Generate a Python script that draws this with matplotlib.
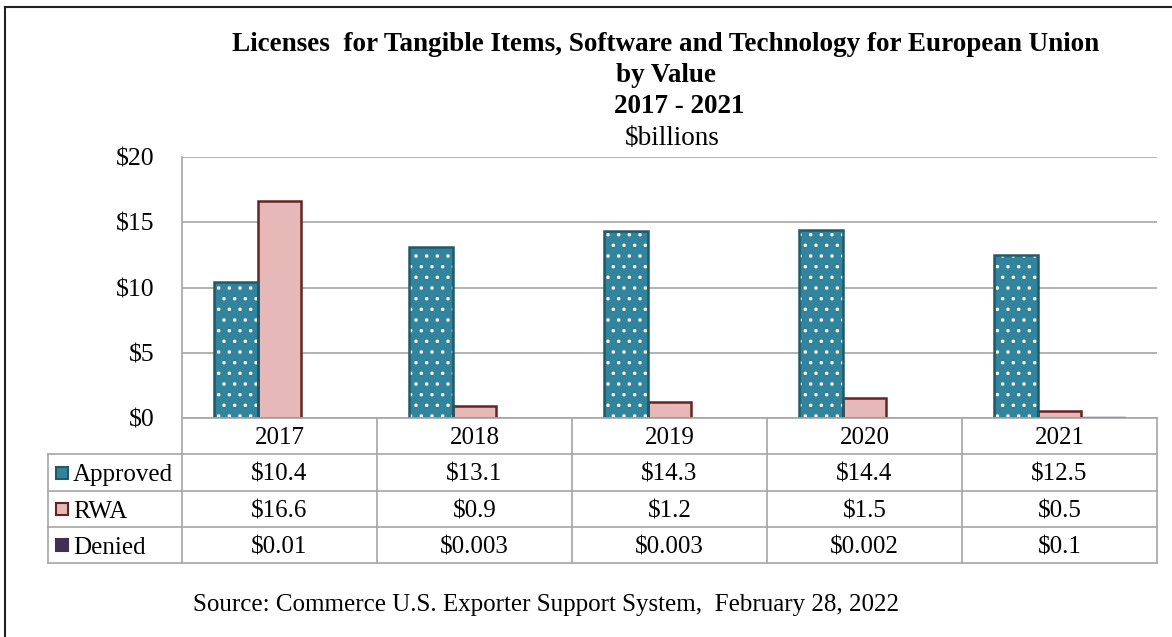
import matplotlib.pyplot as plt
from matplotlib.patches import Rectangle
import numpy as np

plt.rcParams['font.family'] = ['Liberation Serif', 'DejaVu Serif']
plt.rcParams['hatch.color'] = 'white'

# dane
years = ['2017', '2018', '2019', '2020', '2021']
approved = [10.4, 13.1, 14.3, 14.4, 12.5]
rwa = [16.6, 0.9, 1.2, 1.5, 0.5]
denied = [0.01, 0.003, 0.003, 0.002, 0.1]
approved_lbl = ['$10.4', '$13.1', '$14.3', '$14.4', '$12.5']
rwa_lbl = ['$16.6', '$0.9', '$1.2', '$1.5', '$0.5']
denied_lbl = ['$0.01', '$0.003', '$0.003', '$0.002', '$0.1']
yticks = [0, 5, 10, 15, 20]

W, H = 1172, 637
DPI = 128            # wiekszy dpi -> rzadsze kropki w kreskowaniu
k = 100 / DPI        # przeliczenie rozmiarow (pt podane jak dla dpi=100)
plt.rcParams['hatch.linewidth'] = 1.0 * k
fig = plt.figure(figsize=(W / DPI, H / DPI), dpi=DPI)

# obszar wykresu (piksele)
px_l, px_r, px_t, px_b = 182, 1157, 157, 418
ax = fig.add_axes([px_l / W, 1 - px_b / H, (px_r - px_l) / W, (px_b - px_t) / H])

x = np.arange(len(years))
bw = 0.225
# Approved - kropki
ax.bar(x - bw, approved, bw, color='#31849B', hatch='..', edgecolor='white', linewidth=0, zorder=3)
ax.bar(x - bw, approved, bw, fill=False, edgecolor='#215968', linewidth=1.8 * k, zorder=4)
ax.bar(x, rwa, bw, color='#E6B9B8', edgecolor='#632523', linewidth=1.8 * k, zorder=3)
ax.bar(x + bw, denied, bw, color='#403152', edgecolor='#403152', linewidth=1.0 * k, zorder=3)

ax.set_xlim(-0.5, len(years) - 0.5)
ax.set_ylim(0, 20)
ax.set_yticks(yticks)
ax.set_yticklabels([f'${v}' for v in yticks], fontsize=18.5 * k)
ax.tick_params(axis='y', length=0, pad=20 * k)
ax.set_xticks([])
ax.grid(axis='y', color='#A6A6A6', linewidth=1.2 * k, zorder=0)
for s in ['top', 'right', 'bottom']:
    ax.spines[s].set_visible(False)
ax.spines['left'].set_color('#A6A6A6')
ax.spines['left'].set_linewidth(1.2 * k)

# nakladka w pikselach: tabela, tytul, zrodlo
ov = fig.add_axes([0, 0, 1, 1])
ov.set_xlim(0, W)
ov.set_ylim(H, 0)
ov.axis('off')
ov.patch.set_alpha(0)

grid_c = '#A6A6A6'
tbl_l = 48
cols = [px_l + i * (px_r - px_l) / len(years) for i in range(len(years) + 1)]
rows = [418, 454, 491, 527, 563]
dy = 2.5  # korekta pionowa tekstu

# linie tabeli
ov.plot([px_l, px_r], [rows[0], rows[0]], color=grid_c, lw=1.2 * k)
for r in rows[1:]:
    ov.plot([tbl_l, px_r], [r, r], color=grid_c, lw=1.2 * k)
ov.plot([tbl_l, tbl_l], [rows[1], rows[-1]], color=grid_c, lw=1.2 * k)
for c in cols:
    ov.plot([c, c], [rows[0], rows[-1]], color=grid_c, lw=1.2 * k)

fs = 18 * k
for i, yr in enumerate(years):
    cx = (cols[i] + cols[i + 1]) / 2
    ov.text(cx, (rows[0] + rows[1]) / 2 + dy, yr, ha='center', va='center', fontsize=fs)
    ov.text(cx, (rows[1] + rows[2]) / 2 + dy, approved_lbl[i], ha='center', va='center', fontsize=fs)
    ov.text(cx, (rows[2] + rows[3]) / 2 + dy, rwa_lbl[i], ha='center', va='center', fontsize=fs)
    ov.text(cx, (rows[3] + rows[4]) / 2 + dy, denied_lbl[i], ha='center', va='center', fontsize=fs)

legend = [('Approved', '#31849B', '#215968'), ('RWA', '#E6B9B8', '#632523'), ('Denied', '#403152', '#403152')]
for j, (name, fc, ec) in enumerate(legend):
    cy = (rows[j + 1] + rows[j + 2]) / 2
    ov.add_patch(Rectangle((56, cy - 6), 12, 12, facecolor=fc, edgecolor=ec, lw=1.5 * k))
    ov.text(73, cy + dy, name, ha='left', va='center', fontsize=fs)

# tytul
tx = 666
tfs = 19.5 * k
ov.text(tx, 42 + dy, 'Licenses  for Tangible Items, Software and Technology for European Union',
        ha='center', va='center', fontsize=tfs, fontweight='bold')
ov.text(tx, 73 + dy, 'by Value', ha='center', va='center', fontsize=tfs, fontweight='bold')
ov.text(tx + 13, 104 + dy, '2017 - 2021', ha='center', va='center', fontsize=tfs, fontweight='bold')
ov.text(tx + 6, 136 + dy, '$billions', ha='center', va='center', fontsize=tfs)

ov.text(193, 603 + dy, 'Source: Commerce U.S. Exporter Support System,  February 28, 2022',
        ha='left', va='center', fontsize=fs)

# ramka (tylko lewa i gorna krawedz widoczna)
ov.plot([5, 5], [7, H], color='#222222', lw=1.5 * k)
ov.plot([5, W], [7, 7], color='#222222', lw=1.5 * k)

fig.savefig('out.png', dpi=DPI)
